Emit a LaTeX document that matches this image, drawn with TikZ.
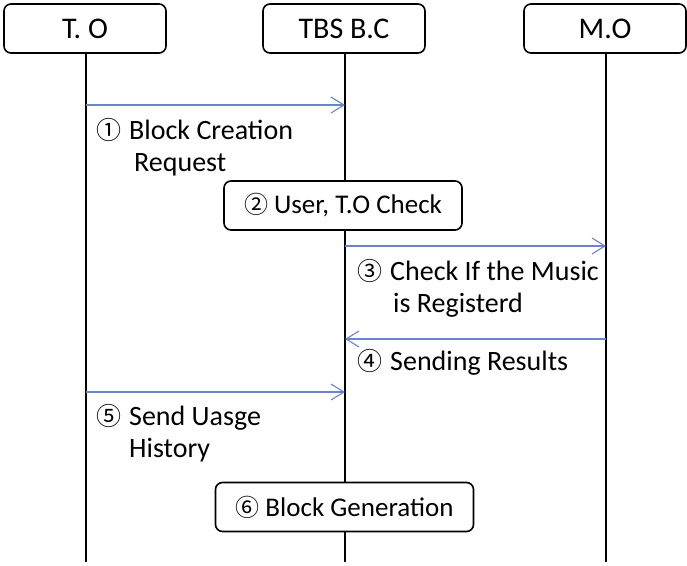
\documentclass[tikz,border=0pt]{standalone}
\usepackage{fontspec}
\setmainfont{Carlito}
\newfontfamily\circfont{Noto Sans CJK JP}
\usetikzlibrary{arrows.meta}
\definecolor{msgblue}{HTML}{6A86C8}
\newcommand{\circnum}[1]{{\circfont\fontsize{25}{25}\selectfont #1}\hspace{8pt}}
\tikzset{
  actor/.style={draw=black, line width=1.6pt, rounded corners=7pt, minimum width=162pt, minimum height=49pt, font=\fontsize{30}{32}\selectfont, inner sep=0pt},
  procbox/.style={draw=black, line width=1.6pt, rounded corners=7pt, minimum height=49pt, font=\fontsize{27}{30}\selectfont, inner sep=0pt},
  lifeline/.style={draw=black, line width=1.4pt},
  msg/.style={draw=msgblue, line width=1.1pt, -{Straight Barb[length=13pt,width=16pt,line width=1.1pt]}},
  lbl/.style={anchor=north west, inner sep=0pt, align=left, font=\fontsize{28}{32}\selectfont},
}
\begin{document}
\begin{tikzpicture}[x=1pt,y=-1pt]
\useasboundingbox (0,0) rectangle (687,565);
\fill[white] (0,0) rectangle (687,565);
\coordinate (toBot) at (86,562);
\coordinate (tbsBot) at (345,562);
\coordinate (moBot) at (606,562);
\node[actor] (to) at (85,28.5) {T. O};
\node[actor] (tbs) at (344,28.5) {TBS B.C};
\node[actor] (mo) at (605,28.5) {M.O};
\draw[lifeline] (to.south -| toBot) -- (toBot);
\draw[lifeline] (tbs.south -| tbsBot) -- (tbsBot);
\draw[lifeline] (mo.south -| moBot) -- (moBot);
% process boxes
\node[procbox, fill=white, minimum width=238pt] (p2) at (343,205.5) {{\circfont\fontsize{24}{24}\selectfont ②}\hspace{6pt}User, T.O Check};
\node[procbox, fill=white, minimum width=258pt] (p6) at (344.5,507) {{\circfont\fontsize{24}{24}\selectfont ⑥}\hspace{6pt}Block Generation};
% messages
\coordinate (a1s) at (86,105); \coordinate (a1e) at (345,105);
\draw[msg] (a1s) -- (a1e);
\node[lbl] (l1) at (96,118) {\circnum{①}Block Creation\\\hphantom{\circnum{①}}\hspace{5pt}Request};
\coordinate (a3s) at (345,246); \coordinate (a3e) at (606,246);
\draw[msg] (a3s) -- (a3e);
\node[lbl] (l3) at (357,259) {\circnum{③}Check If the Music\\\hphantom{\circnum{③}}\hspace{3pt}is Registerd};
\coordinate (a4s) at (606,339); \coordinate (a4e) at (345,339);
\draw[msg] (a4s) -- (a4e);
\node[lbl] (l4) at (357,349) {\circnum{④}Sending Results};
\coordinate (a5s) at (86,392); \coordinate (a5e) at (345,392);
\draw[msg] (a5s) -- (a5e);
\node[lbl] (l5) at (96,404) {\circnum{⑤}Send Uasge\\\hphantom{\circnum{⑤}}History};
\end{tikzpicture}
\end{document}
